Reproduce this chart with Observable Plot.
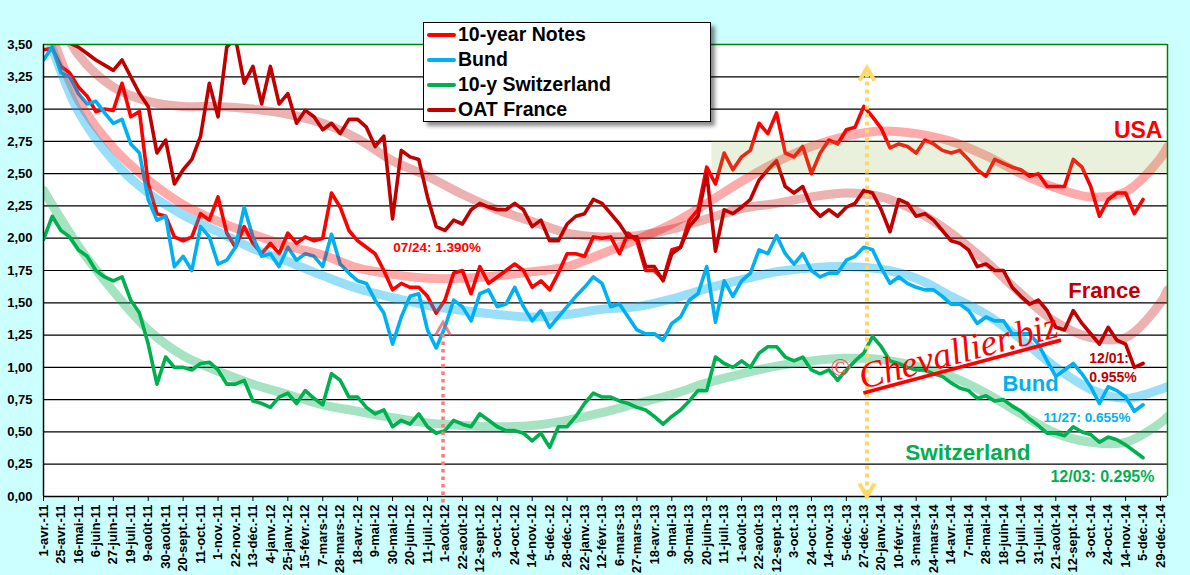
<!DOCTYPE html>
<html><head><meta charset="utf-8">
<script src="https://cdn.jsdelivr.net/npm/d3@7"></script>
<script src="https://cdn.jsdelivr.net/npm/@observablehq/plot@0.6"></script>
<style>
body{margin:0;background:#CCFFFF;font-family:"Liberation Sans",Arial,sans-serif;}
#wrap{position:relative;width:1190px;height:575px;overflow:hidden;}
#legend{position:absolute;left:423px;top:22px;width:286px;height:98px;background:#fff;border:1px solid #000;box-shadow:4px 4px 4px rgba(0,0,0,0.45);}
.item{position:absolute;left:3px;height:25px;display:flex;align-items:center;font-weight:bold;font-size:19.5px;color:#000;white-space:nowrap;}
.sw{width:29px;height:4px;border-radius:2px;margin-right:2px;}
</style></head>
<body><div id="wrap"><div id="chart"></div><div id="legend"></div></div>
<script>
// ---- category axis labels (one every 15 trading days) ----
const xLabels = ["1-avr.-11","25-avr.-11","16-mai-11","6-juin-11","27-juin-11","19-juil.-11","9-août-11","30-août-11","20-sept.-11","11-oct.-11","1-nov.-11","22-nov.-11","13-déc.-11","4-janv.-12","25-janv.-12","15-févr.-12","7-mars-12","28-mars-12","18-avr.-12","9-mai-12","30-mai-12","20-juin-12","11-juil.-12","1-août-12","22-août-12","12-sept.-12","3-oct.-12","24-oct.-12","14-nov.-12","5-déc.-12","28-déc.-12","22-janv.-13","12-févr.-13","6-mars-13","27-mars-13","18-avr.-13","9-mai-13","30-mai-13","20-juin-13","11-juil.-13","1-août-13","22-août-13","12-sept.-13","3-oct.-13","24-oct.-13","14-nov.-13","5-déc.-13","27-déc.-13","20-janv.-14","10-févr.-14","3-mars-14","24-mars-14","14-avr.-14","7-mai-14","28-mai-14","18-juin-14","10-juil.-14","31-juil.-14","21-août-14","12-sept.-14","3-oct.-14","24-oct.-14","14-nov.-14","5-déc.-14","29-déc.-14"];
const xEnd = 64.4;                 // right edge of the category axis (in label units)
const yTicks = [0,0.25,0.5,0.75,1,1.25,1.5,1.75,2,2.25,2.5,2.75,3,3.25,3.5];
const STEP = 0.5;                  // one value every half label (~7.5 trading days)

// ---- yields, % ----
const usNotes = [3.46,3.47,3.33,3.28,3.17,3.10,2.98,3.00,2.99,3.20,
2.94,2.98,2.42,2.19,2.17,2.01,1.98,2.01,2.19,2.14,
2.32,2.04,1.93,2.09,1.96,1.88,1.96,1.88,2.04,1.96,
2.01,1.98,2.00,2.35,2.24,2.06,1.98,1.93,1.88,1.75,
1.60,1.65,1.62,1.62,1.55,1.42,1.52,1.73,1.75,1.57,
1.78,1.65,1.70,1.75,1.80,1.75,1.62,1.67,1.60,1.73,
1.88,1.88,1.86,2.01,2.00,2.01,1.88,2.04,1.98,1.75,
1.75,1.68,1.91,1.93,2.14,2.22,2.55,2.42,2.66,2.53,
2.63,2.68,2.89,2.81,2.97,2.66,2.63,2.71,2.50,2.66,
2.76,2.73,2.84,2.86,3.02,2.94,2.85,2.70,2.73,2.71,
2.66,2.76,2.73,2.68,2.66,2.68,2.61,2.53,2.48,2.61,
2.58,2.55,2.53,2.48,2.50,2.40,2.40,2.40,2.61,2.55,
2.40,2.17,2.30,2.35,2.35,2.19,2.30];
const bund = [3.38,3.48,3.28,3.25,3.12,3.04,3.06,2.97,2.89,2.92,
2.73,2.66,2.30,2.14,2.17,1.78,1.86,1.75,2.09,2.01,
1.80,1.83,1.93,2.24,2.01,1.86,1.88,1.78,1.93,1.83,
1.88,1.86,1.78,2.03,1.80,1.73,1.67,1.65,1.52,1.42,
1.18,1.39,1.55,1.57,1.29,1.15,1.31,1.52,1.47,1.36,
1.57,1.60,1.47,1.49,1.62,1.47,1.36,1.44,1.31,1.39,
1.47,1.55,1.62,1.70,1.65,1.47,1.49,1.39,1.29,1.26,
1.26,1.21,1.34,1.39,1.52,1.57,1.78,1.35,1.67,1.55,
1.67,1.73,1.91,1.88,2.02,1.88,1.80,1.88,1.75,1.70,
1.73,1.73,1.83,1.86,1.93,1.91,1.77,1.65,1.70,1.65,
1.62,1.60,1.60,1.55,1.49,1.49,1.44,1.34,1.39,1.36,
1.36,1.26,1.26,1.26,1.18,1.05,0.93,0.98,1.03,0.95,
0.85,0.72,0.85,0.82,0.77,0.66,0.71];
const swiss = [1.99,2.17,2.06,2.01,1.91,1.86,1.75,1.70,1.67,1.70,
1.52,1.42,1.18,0.87,1.08,1.00,1.00,0.98,1.03,1.04,
0.98,0.87,0.87,0.90,0.74,0.72,0.69,0.77,0.80,0.72,
0.82,0.76,0.71,0.95,0.90,0.77,0.77,0.69,0.64,0.67,
0.54,0.59,0.56,0.64,0.54,0.49,0.51,0.59,0.56,0.54,
0.64,0.59,0.54,0.51,0.51,0.49,0.43,0.49,0.38,0.54,
0.54,0.62,0.72,0.80,0.77,0.77,0.74,0.72,0.69,0.67,
0.62,0.56,0.62,0.67,0.74,0.82,0.82,1.08,1.03,1.00,
1.05,1.00,1.11,1.16,1.16,1.08,1.05,1.08,0.98,0.95,
0.98,0.90,0.98,1.05,1.11,1.24,1.16,1.05,1.03,1.00,
0.98,0.98,0.95,0.93,0.88,0.84,0.82,0.76,0.78,0.74,
0.75,0.70,0.66,0.60,0.55,0.49,0.49,0.47,0.54,0.50,
0.48,0.42,0.46,0.44,0.40,0.35,0.30];
const oatFrance = [3.62,3.62,3.58,3.51,3.48,3.43,3.38,3.34,3.30,3.38,
3.25,3.12,3.02,2.66,2.76,2.42,2.53,2.61,2.79,3.20,
2.94,3.48,3.55,3.20,3.33,3.04,3.33,3.04,3.12,2.89,
2.99,2.94,2.84,2.89,2.81,2.92,2.92,2.86,2.71,2.79,
2.15,2.68,2.63,2.61,2.32,2.09,2.06,2.14,2.11,2.22,
2.27,2.24,2.22,2.22,2.27,2.22,2.09,2.14,1.98,1.98,
2.11,2.17,2.19,2.30,2.27,2.19,2.11,2.01,2.01,1.78,
1.78,1.67,1.88,1.93,2.09,2.17,2.50,1.90,2.22,2.19,
2.24,2.30,2.45,2.53,2.60,2.40,2.35,2.40,2.24,2.17,
2.22,2.17,2.24,2.27,2.37,2.35,2.22,2.05,2.30,2.27,
2.17,2.19,2.14,2.06,1.98,1.96,1.91,1.78,1.80,1.75,
1.75,1.62,1.55,1.49,1.52,1.44,1.31,1.29,1.44,1.34,
1.26,1.18,1.31,1.21,1.18,1.00,1.03];

// ---- polynomial trend curves, read at every 2 labels ----
const trendAt = [0,2,4,6,8,10,12,14,16,18,20,22,24,26,28,30,32,34,36,38,40,42,44,46,48,50,52,54,56,58,60,62,64,64.4];
const usTrend = [3.75,3.07,2.70,2.45,2.26,2.13,2.03,1.94,1.87,1.77,1.72,1.69,1.69,1.71,1.74,1.78,1.88,1.99,2.11,2.27,2.44,2.59,2.71,2.79,2.83,2.81,2.75,2.64,2.50,2.39,2.32,2.36,2.62,2.71];
const bundTrend = [3.66,2.98,2.60,2.35,2.18,2.05,1.92,1.82,1.71,1.61,1.54,1.48,1.44,1.41,1.39,1.41,1.45,1.47,1.53,1.61,1.68,1.74,1.77,1.78,1.76,1.69,1.55,1.41,1.22,1.00,0.83,0.76,0.83,0.85];
const swissTrend = [2.37,1.94,1.59,1.29,1.09,0.97,0.87,0.79,0.71,0.66,0.61,0.57,0.55,0.54,0.55,0.59,0.65,0.72,0.79,0.88,0.95,1.01,1.05,1.07,1.06,1.01,0.93,0.80,0.64,0.49,0.42,0.42,0.57,0.62];
const franceTrend = [3.95,3.42,3.17,3.06,3.02,3.02,3.00,2.96,2.89,2.77,2.60,2.48,2.34,2.22,2.13,2.04,2.01,2.02,2.07,2.15,2.23,2.27,2.32,2.35,2.32,2.21,2.04,1.82,1.57,1.35,1.23,1.23,1.50,1.60];

// ---- highlights ----
const lowMark = {at: 22.89, value: 1.35};     // 07/24/2012 US low
const peakMark = {at: 47.18, value: 3.32};    // end 2013 peak
const band = {from: 38.3, low: 2.5, high: 2.75};

const C = {us:"#FF0000", bund:"#00B0F0", swiss:"#00B050", fr:"#C00000"};
const series = (arr) => arr.map((v, i) => ({x: i * STEP, y: v}));
const trend = (arr) => arr.map((v, i) => ({x: trendAt[i], y: v}));

const chevUp = {draw(ctx, size){const r=Math.sqrt(size/Math.PI); ctx.moveTo(-0.58*r, r); ctx.lineTo(0,0); ctx.lineTo(0.58*r, r);}};
const chevDown = {draw(ctx, size){const r=Math.sqrt(size/Math.PI); ctx.moveTo(-0.58*r, -r); ctx.lineTo(0,0); ctx.lineTo(0.58*r, -r);}};

const notes = [
  {x: 20.04, y: 1.93, t: "07/24: 1.390%", c: C.us, s: 13.5, a: "start"},
  {x: 64.11, y: 2.83, t: "USA", c: C.us, s: 23, a: "end"},
  {x: 62.85, y: 1.59, t: "France", c: C.fr, s: 22, a: "end"},
  {x: 54.94, y: 0.87, t: "Bund", c: C.bund, s: 22, a: "start"},
  {x: 49.38, y: 0.34, t: "Switzerland", c: C.swiss, s: 22.5, a: "start"},
  {x: 59.92, y: 1.07, t: "12/01:", c: C.fr, s: 14, a: "start"},
  {x: 59.92, y: 0.92, t: "0.955%", c: C.fr, s: 14, a: "start"},
  {x: 57.29, y: 0.61, t: "11/27: 0.655%", c: C.bund, s: 13.5, a: "start"},
  {x: 57.69, y: 0.15, t: "12/03: 0.295%", c: C.swiss, s: 16, a: "start"}
];

const lineOpts = (c) => ({x: "x", y: "y", stroke: c, strokeWidth: 3.6, strokeLinejoin: "round", clip: true});
const trendOpts = (c, o) => ({x: "x", y: "y", stroke: c, strokeWidth: 9, strokeOpacity: o, curve: "catmull-rom", clip: true});

const chart = Plot.plot({
  width: 1190, height: 575,
  marginLeft: 43, marginRight: 23, marginTop: 44, marginBottom: 79,
  style: {background: "transparent", fontFamily: "'Liberation Sans', Arial, sans-serif", fontWeight: "bold", overflow: "visible", color: "#000"},
  x: {domain: [0, xEnd]},
  y: {domain: [0, 3.5]},
  marks: [
    Plot.frame({fill: "white", stroke: "none"}),
    Plot.ruleY(yTicks.filter(d => d > 0 && d < 3.5), {stroke: "#000", strokeWidth: 1.2}),
    Plot.axisY({ticks: yTicks, tickFormat: d => d.toFixed(2).replace(".", ","), tickSize: 0, tickPadding: 11, fontSize: 13, label: null}),
    Plot.axisX({ticks: d3.range(xLabels.length), tickFormat: i => xLabels[i], tickRotate: -90, tickSize: 0, tickPadding: 8, fontSize: 13, label: null}),
    Plot.axisX({ticks: d3.range(0, xLabels.length, 2), tickFormat: () => "", tickSize: 5, label: null}),
    Plot.line(series(usNotes), lineOpts(C.us)),
    Plot.line(series(bund), lineOpts(C.bund)),
    Plot.line(series(swiss), lineOpts(C.swiss)),
    Plot.line(series(oatFrance), lineOpts(C.fr)),
    Plot.line(trend(usTrend), trendOpts(C.us, 0.33)),
    Plot.line(trend(bundTrend), trendOpts(C.bund, 0.4)),
    Plot.line(trend(swissTrend), trendOpts(C.swiss, 0.35)),
    Plot.line(trend(franceTrend), trendOpts(C.fr, 0.3)),
    Plot.rect([band], {x1: "from", x2: () => xEnd, y1: "low", y2: "high", fill: "#9BBB59", fillOpacity: 0.22}),
    Plot.ruleY([3.5], {stroke: "#008000", strokeWidth: 1.5}),
    Plot.ruleX([xEnd], {stroke: "#008000", strokeWidth: 1.5}),
    Plot.ruleX([0], {stroke: "#000", strokeWidth: 1.5}),
    Plot.ruleY([0], {stroke: "#000", strokeWidth: 1.5}),
    // dotted markers
    Plot.ruleX([lowMark], {x: "at", y1: -0.05, y2: d => d.value - 0.06, stroke: "#FF7A7A", strokeWidth: 3.5, strokeDasharray: "3.5,4"}),
    Plot.dot([lowMark], {x: "at", y: "value", symbol: chevUp, r: 13, fill: "none", stroke: "#E05A6A", strokeOpacity: 0.75, strokeWidth: 3}),
    Plot.ruleX([peakMark], {x: "at", y1: 0.02, y2: d => d.value - 0.02, stroke: "#FFD966", strokeWidth: 4, strokeDasharray: "4,4"}),
    Plot.dot([peakMark], {x: "at", y: "value", symbol: chevUp, r: 13, fill: "none", stroke: "#FFD966", strokeWidth: 4}),
    Plot.dot([peakMark], {x: "at", y: () => 0, symbol: chevDown, r: 13, fill: "none", stroke: "#FFD966", strokeWidth: 4}),
    // texts
    ...notes.map(n => Plot.text([n], {x: "x", y: "y", text: "t", fill: n.c, fontSize: n.s, textAnchor: n.a, fontWeight: "bold"})),
    // watermark
    Plot.text([{x: 45.66, y: 1.0}], {x: "x", y: "y", text: () => "©", fill: "#FF4A4A", fontSize: 26, fontWeight: "normal", fontFamily: "'Liberation Serif', serif"}),
    Plot.text([{x: 46.92, y: 0.83}], {x: "x", y: "y", text: () => "Chevallier.biz", fill: "#FF0000", fontSize: 37, fontStyle: "italic", fontWeight: "normal", fontFamily: "'Liberation Serif', serif", textAnchor: "start", lineAnchor: "bottom", rotate: -15, className: "wm"})
  ]
});
chart.querySelectorAll(".wm text").forEach(t => { t.style.textDecoration = "underline"; });
document.getElementById("chart").appendChild(chart);

const legendItems = [["10-year Notes", C.us], ["Bund", C.bund], ["10-y Switzerland", C.swiss], ["OAT France", C.fr]];
const lg = document.getElementById("legend");
legendItems.forEach(([name, col], i) => {
  const d = document.createElement("div");
  d.className = "item";
  d.style.top = (i * 25 - 1) + "px";
  d.innerHTML = `<span class="sw" style="background:${col}"></span>${name}`;
  lg.appendChild(d);
});
</script>
</body></html>
